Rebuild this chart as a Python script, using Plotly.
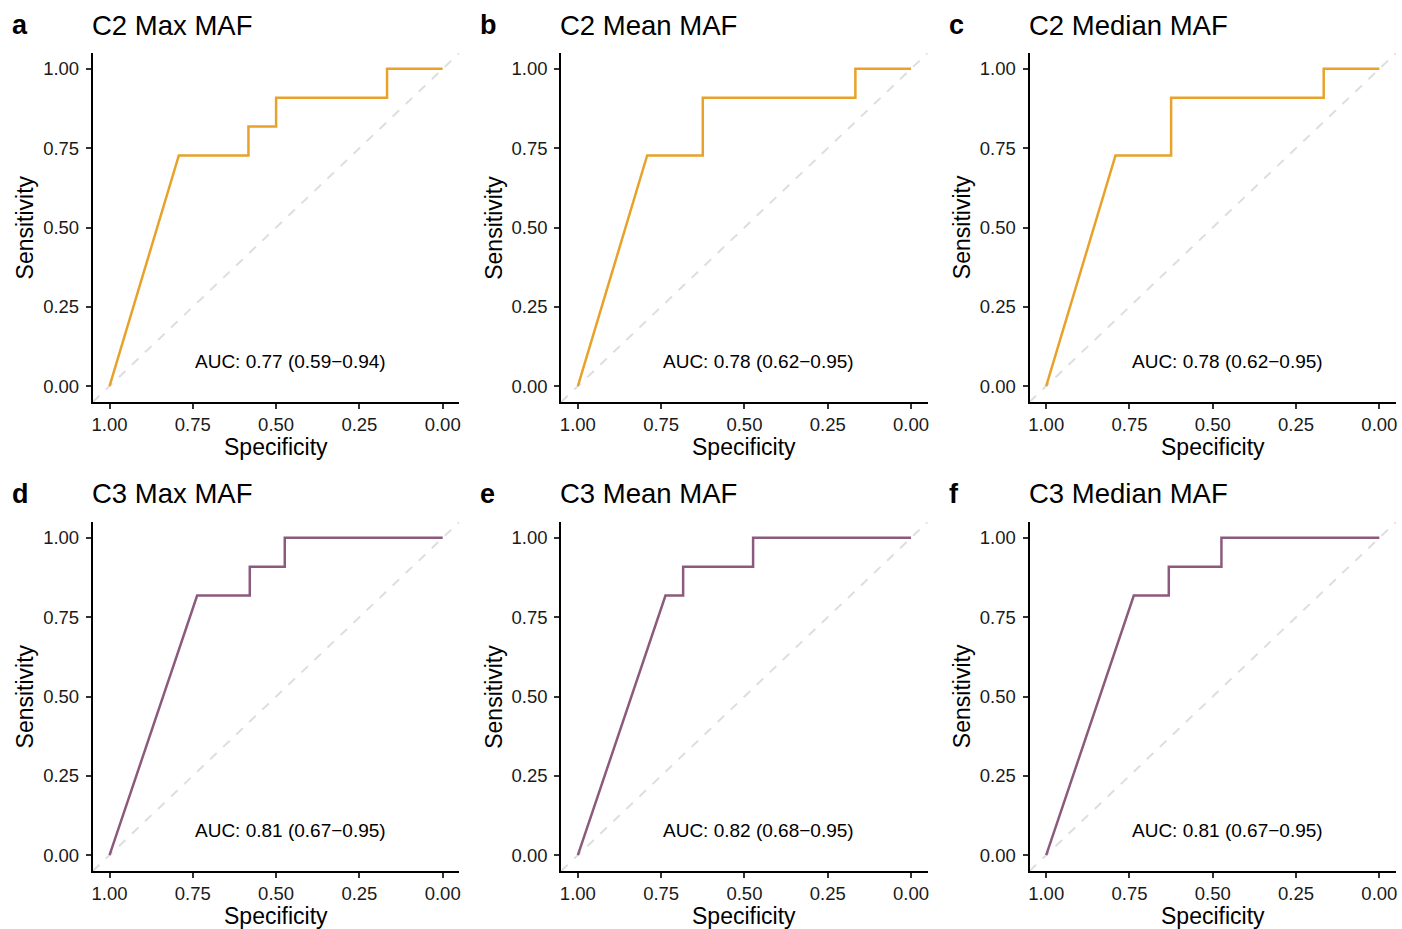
import plotly.graph_objects as go

W, H = 1402, 929

# ---- data -------------------------------------------------------------
panel_letters = ["a", "b", "c", "d", "e", "f"]
panel_titles = ["C2 Max MAF", "C2 Mean MAF", "C2 Median MAF",
                "C3 Max MAF", "C3 Mean MAF", "C3 Median MAF"]
auc_labels = ["AUC: 0.77 (0.59\u22120.94)", "AUC: 0.78 (0.62\u22120.95)",
              "AUC: 0.78 (0.62\u22120.95)", "AUC: 0.81 (0.67\u22120.95)",
              "AUC: 0.82 (0.68\u22120.95)", "AUC: 0.81 (0.67\u22120.95)"]

spec_a = [1.00, 0.792, 0.583, 0.583, 0.500, 0.500, 0.167, 0.167, 0.00]
sens_a = [0.00, 0.727, 0.727, 0.818, 0.818, 0.909, 0.909, 1.000, 1.00]
spec_b = [1.00, 0.792, 0.625, 0.625, 0.167, 0.167, 0.00]
sens_b = [0.00, 0.727, 0.727, 0.909, 0.909, 1.000, 1.00]
spec_c = [1.00, 0.792, 0.625, 0.625, 0.167, 0.167, 0.00]
sens_c = [0.00, 0.727, 0.727, 0.909, 0.909, 1.000, 1.00]
spec_d = [1.00, 0.737, 0.579, 0.579, 0.474, 0.474, 0.00]
sens_d = [0.00, 0.818, 0.818, 0.909, 0.909, 1.000, 1.00]
spec_e = [1.00, 0.737, 0.684, 0.684, 0.474, 0.474, 0.00]
sens_e = [0.00, 0.818, 0.818, 0.909, 0.909, 1.000, 1.00]
spec_f = [1.00, 0.737, 0.632, 0.632, 0.474, 0.474, 0.00]
sens_f = [0.00, 0.818, 0.818, 0.909, 0.909, 1.000, 1.00]

specs = [spec_a, spec_b, spec_c, spec_d, spec_e, spec_f]
senses = [sens_a, sens_b, sens_c, sens_d, sens_e, sens_f]

tick_vals = [1.00, 0.75, 0.50, 0.25, 0.00]
tick_text = ["1.00", "0.75", "0.50", "0.25", "0.00"]

ORANGE = "#E8A22A"
PURPLE = "#8C5A7D"
row_colors = [ORANGE, PURPLE]

# ---- layout geometry (pixels) ----------------------------------------
col_x = [(92, 459), (561, 928), (1030, 1397)]
row_y = [(53, 402), (522, 871)]

def px(x):
    return x / W

def py(y):
    return 1 - y / H

FONT = "Liberation Sans, Arial, sans-serif"

fig = go.Figure()
layout = dict(
    width=W, height=H,
    margin=dict(l=0, r=0, t=0, b=0),
    paper_bgcolor="white", plot_bgcolor="white",
    showlegend=False,
    font=dict(family=FONT, color="black"),
)
annotations = []

for i in range(6):
    r, c = divmod(i, 3)
    idx = "" if i == 0 else str(i + 1)
    xa, ya = "x" + idx, "y" + idx
    x0, x1 = col_x[c]
    y0, y1 = row_y[r]

    # diagonal reference
    fig.add_trace(go.Scatter(
        x=[1.05, -0.05], y=[-0.05, 1.05], mode="lines",
        line=dict(color="#DEDEDE", width=2, dash="dash"),
        xaxis=xa, yaxis=ya, hoverinfo="skip"))
    # ROC curve
    fig.add_trace(go.Scatter(
        x=specs[i], y=senses[i], mode="lines",
        line=dict(color=row_colors[r], width=2.5),
        xaxis=xa, yaxis=ya))

    common = dict(
        showline=True, linecolor="black", linewidth=2,
        ticks="outside", ticklen=5, tickwidth=1.5, tickcolor="#333333",
        showgrid=False, zeroline=False,
        tickvals=tick_vals, ticktext=tick_text,
        tickfont=dict(family=FONT, size=18.5, color="#1a1a1a"),
        fixedrange=True,
    )
    layout["xaxis" + idx] = dict(common, domain=[px(x0), px(x1)],
                                 range=[1.05, -0.05], anchor=ya)
    layout["yaxis" + idx] = dict(common, domain=[py(y1), py(y0)],
                                 range=[-0.05, 1.05], anchor=xa,
                                 ticklabelstandoff=3)

    # AUC text
    annotations.append(dict(
        x=0.457, y=0.078, xref=xa, yref=ya, text=auc_labels[i],
        showarrow=False, xanchor="center", yanchor="middle",
        font=dict(family=FONT, size=19, color="black")))
    # panel title
    annotations.append(dict(
        x=px(x0 - 3), y=py(y0 - 28), xref="paper", yref="paper",
        text=panel_titles[i], showarrow=False, xanchor="left",
        yanchor="middle", font=dict(family=FONT, size=27.5, color="black")))
    # panel letter
    annotations.append(dict(
        x=px(x0 - 83), y=py(y0 - 28), xref="paper", yref="paper",
        text="<b>" + panel_letters[i] + "</b>", showarrow=False,
        xanchor="left", yanchor="middle",
        font=dict(family=FONT, size=27, color="black")))
    # axis titles
    annotations.append(dict(
        x=px((x0 + x1) / 2), y=py(y1 + 45), xref="paper", yref="paper",
        text="Specificity", showarrow=False, xanchor="center",
        yanchor="middle", font=dict(family=FONT, size=23, color="black")))
    annotations.append(dict(
        x=px(x0 - 68), y=py((y0 + y1) / 2), xref="paper", yref="paper",
        text="Sensitivity", showarrow=False, xanchor="center",
        yanchor="middle", textangle=-90,
        font=dict(family=FONT, size=23, color="black")))

layout["annotations"] = annotations
fig.update_layout(**layout)
fig.write_html("out.html", config={"displayModeBar": False})

# remove the default page margin so the figure fills the window exactly
with open("out.html", encoding="utf-8") as fh:
    html = fh.read()
html = html.replace("<head>", "<head><style>html,body{margin:0;padding:0;overflow:hidden;}</style>", 1)
with open("out.html", "w", encoding="utf-8") as fh:
    fh.write(html)
